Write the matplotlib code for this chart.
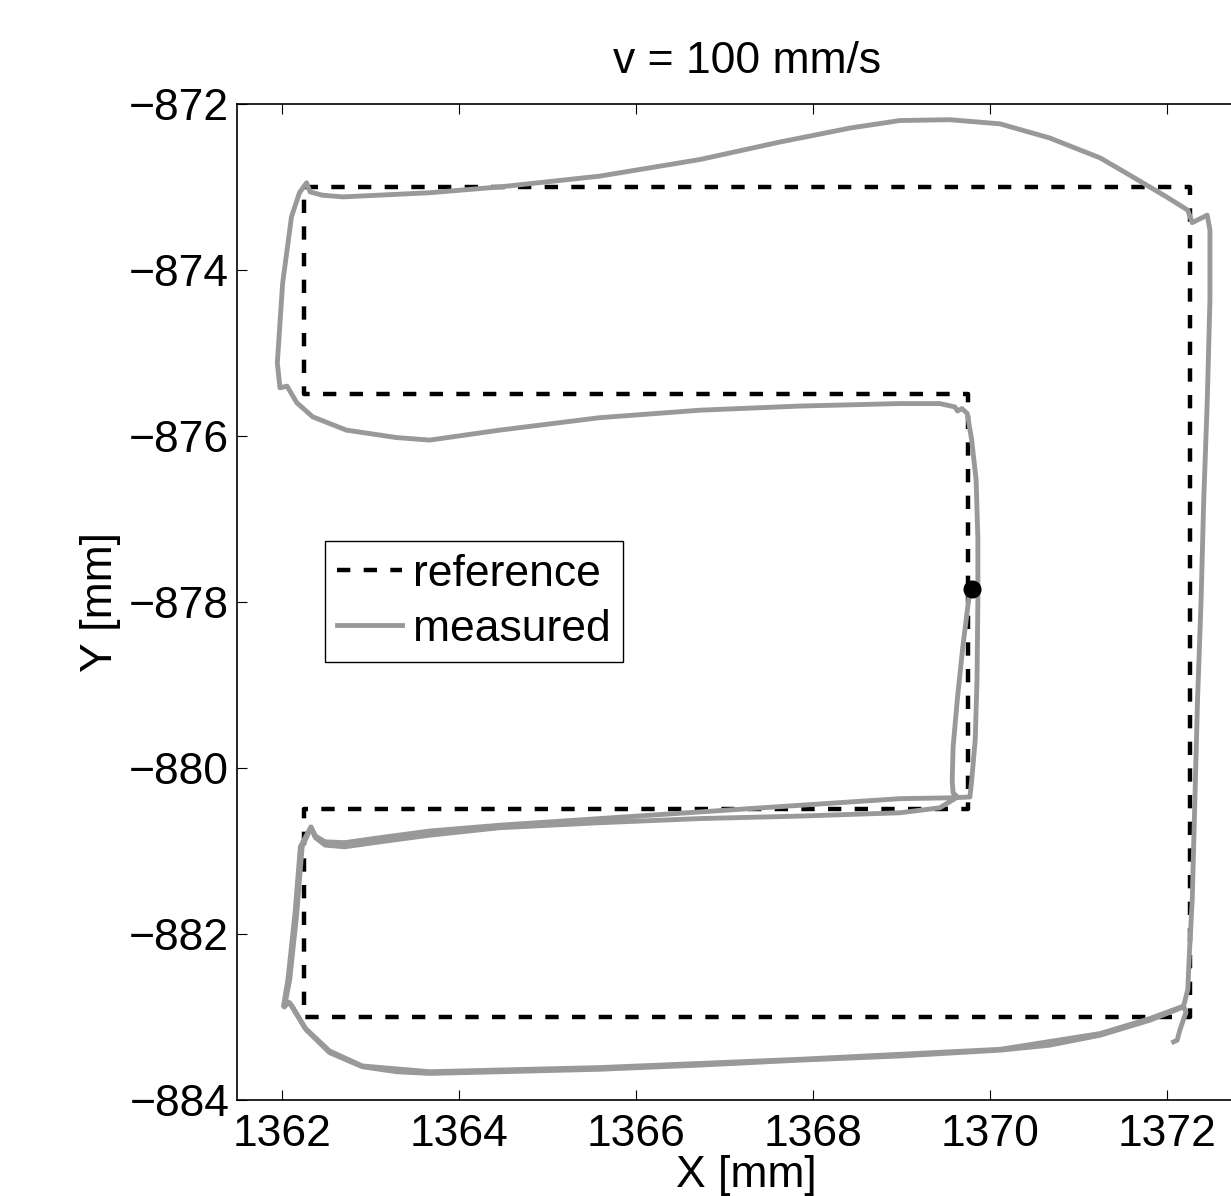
import matplotlib
matplotlib.use("Agg")
import matplotlib.pyplot as plt

plt.rcParams['font.family'] = ['Liberation Sans', 'DejaVu Sans']
plt.rcParams['font.size'] = 32

# reference path (E shape), starts/ends at the start point on the inner edge
ref_x = [1369.75, 1369.75, 1362.25, 1362.25, 1372.25, 1372.25, 1362.25, 1362.25, 1369.75, 1369.75]
ref_y = [-877.85, -875.5, -875.5, -873.0, -873.0, -883.0, -883.0, -880.5, -880.5, -877.85]

# measured path
meas_x = [1369.77, 1369.69, 1369.63, 1369.58, 1369.57, 1369.58, 1369.63,
          1369.43, 1368.98, 1367.85, 1366.72, 1365.59, 1364.46, 1363.67, 1363.11, 1362.71, 1362.49, 1362.38, 1362.33,
          1362.23, 1362.17, 1362.09, 1362.03, 1362.07, 1362.11,
          1362.28, 1362.54, 1362.91, 1363.30, 1363.67, 1364.46, 1365.59, 1366.72, 1367.85, 1368.98, 1370.11, 1370.67,
          1371.24, 1371.80, 1372.18,
          1372.23, 1372.25, 1372.28, 1372.31, 1372.34, 1372.38, 1372.41, 1372.45, 1372.48, 1372.48, 1372.45, 1372.28, 1372.23,
          1371.99, 1371.61, 1371.24, 1370.67, 1370.11, 1369.54, 1368.98, 1368.42, 1367.62, 1366.72, 1365.59, 1364.46,
          1363.67, 1362.69, 1362.46, 1362.32, 1362.28,
          1362.20, 1362.11, 1362.01, 1361.95, 1361.98, 1362.06,
          1362.17, 1362.35, 1362.73, 1363.30, 1363.67,
          1364.46, 1365.59, 1366.72, 1367.85, 1368.98, 1369.43, 1369.60, 1369.63, 1369.68,
          1369.74, 1369.79, 1369.84, 1369.86, 1369.86, 1369.85, 1369.83, 1369.79, 1369.77,
          1369.54, 1368.98, 1367.85, 1366.72, 1365.59, 1364.46, 1363.67, 1363.11, 1362.71, 1362.49, 1362.38, 1362.33,
          1362.21, 1362.15, 1362.07, 1362.02, 1362.09,
          1362.26, 1362.54, 1362.91, 1363.67, 1365.59, 1367.85, 1370.11, 1371.24, 1371.80, 1372.18,
          1372.21, 1372.14, 1372.11, 1372.07]
meas_y = [-877.85, -878.54, -879.15, -879.75, -880.15, -880.30, -880.35,
          -880.48, -880.54, -880.58, -880.61, -880.66, -880.72, -880.81, -880.89, -880.95, -880.93, -880.84, -880.72,
          -880.95, -881.75, -882.55, -882.88, -882.82, -882.86,
          -883.16, -883.43, -883.60, -883.66, -883.68, -883.66, -883.63, -883.58, -883.52, -883.47, -883.40, -883.34,
          -883.22, -883.04, -882.88,
          -882.67, -882.19, -881.59, -880.39, -879.18, -877.98, -876.77, -875.57, -874.36, -873.52, -873.34, -873.43, -873.28,
          -873.12, -872.88, -872.65, -872.41, -872.24, -872.19, -872.20, -872.29, -872.46, -872.67, -872.87, -873.00,
          -873.07, -873.12, -873.10, -873.06, -872.95,
          -873.07, -873.36, -874.16, -875.12, -875.42, -875.40,
          -875.60, -875.77, -875.93, -876.02, -876.05,
          -875.93, -875.78, -875.69, -875.64, -875.61, -875.61, -875.65, -875.70, -875.67,
          -875.73, -876.05, -876.53, -877.25, -877.98, -878.94, -879.66, -880.15, -880.35,
          -880.36, -880.37, -880.45, -880.53, -880.61, -880.69, -880.76, -880.84, -880.90, -880.89, -880.82, -880.71,
          -880.95, -881.75, -882.55, -882.87, -882.83,
          -883.13, -883.41, -883.59, -883.66, -883.61, -883.51, -883.39, -883.20, -883.02, -882.87,
          -882.94, -883.16, -883.28, -883.30]

start_x, start_y = 1369.79, -877.85

fig = plt.figure(figsize=(12.31, 11.96), dpi=100)
ax = fig.add_axes([0.1929, 0.0803, 0.8274, 0.8328])

ax.plot(ref_x, ref_y, color='black', lw=3.2, dashes=(3, 3), label='reference', zorder=2)
ax.plot(meas_x, meas_y, color='#999999', lw=3.5, label='measured', zorder=3)
ax.plot([start_x], [start_y], 'o', color='black', ms=12, zorder=4)

ax.set_xlim(1361.5, 1373)
ax.set_ylim(-884, -872)
ax.set_xticks(range(1362, 1373, 2))
ax.set_yticks(range(-884, -871, 2))
ax.tick_params(direction='in', length=7, width=0.8, top=True, right=True)
ax.tick_params(axis='x', pad=10)
ax.tick_params(axis='y', pad=6)
for s in ax.spines.values():
    s.set_linewidth(1.2)

ax.set_title('v = 100 mm/s', fontsize=32, pad=22)
ax.set_xlabel('X [mm]', labelpad=0)
ax.set_ylabel('Y [mm]', labelpad=6)

leg = ax.legend(loc='upper left', bbox_to_anchor=(0.0859, 0.561), borderaxespad=0,
                fancybox=False, framealpha=1, edgecolor='black',
                handlelength=1.45, handletextpad=0.25, borderpad=0.28, labelspacing=0.315)
leg.get_frame().set_linewidth(1.0)

fig.savefig('out.png', dpi=100)
